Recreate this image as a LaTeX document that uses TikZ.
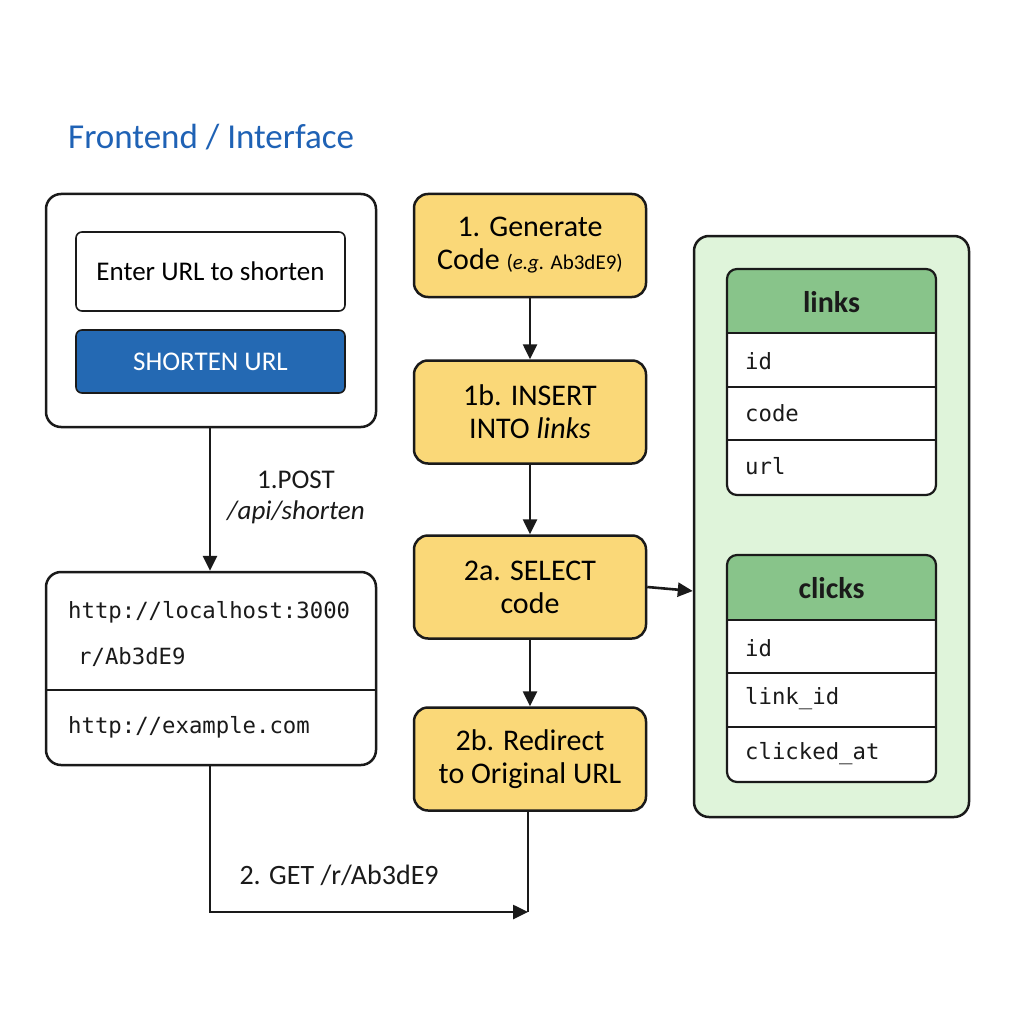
\documentclass[tikz,border=0pt]{standalone}
\usepackage{fontspec}
\setmainfont{Carlito}
\setmonofont{DejaVu Sans Mono}
\usetikzlibrary{arrows.meta}
\definecolor{titleblue}{HTML}{1F62B5}
\definecolor{btnblue}{HTML}{2469B3}
\definecolor{ybox}{HTML}{FAD878}
\definecolor{gbg}{HTML}{DFF4DA}
\definecolor{ghdr}{HTML}{88C48A}
\definecolor{ink}{HTML}{1A1A1A}
\tikzset{
  frame/.style={draw=ink, line width=2.5pt, rounded corners=15pt, fill=white},
  stepbox/.style={draw=ink, line width=2.5pt, rounded corners=14pt, fill=ybox,
    minimum width=232pt, minimum height=103pt, align=center,
    font=\fontsize{30}{33}\selectfont, inner sep=0pt},
  conn/.style={draw=ink, line width=2.6pt, -{Triangle[length=15pt,width=14pt]}},
  plain/.style={draw=ink, line width=2.6pt},
  lbl/.style={font=\fontsize{27}{31}\selectfont, align=center, text=ink},
  mono/.style={font=\ttfamily\fontsize{22.3}{26}\selectfont, text=ink, anchor=west, inner sep=0pt},
  tbl/.style={draw=ink, line width=2.2pt, rounded corners=10pt},
  hdrtxt/.style={font=\bfseries\fontsize{30}{32}\selectfont, text=ink},
  rowline/.style={draw=ink, line width=2.2pt},
}
\begin{document}
\begin{tikzpicture}[x=1pt,y=-1pt]
\useasboundingbox[fill=white] (0,0) rectangle (1024,1024);

% Title
\node[anchor=west, inner sep=0pt, text=titleblue, font=\fontsize{35}{40}\selectfont] (title) at (68,137) {Frontend / Interface};

% Frontend box
\node (front) at (211,310.5) [frame, minimum width=330pt, minimum height=233pt, inner sep=0pt] {};
\node (input) at (210.5,271.5) [draw=ink, line width=1.6pt, rounded corners=6pt, minimum width=269pt, minimum height=79pt, inner sep=0pt, font=\fontsize{27}{30}\selectfont] {Enter URL to shorten};
\node (btn) at (210.5,361.5) [draw=ink, line width=1.6pt, rounded corners=6pt, fill=btnblue, minimum width=269pt, minimum height=63pt, inner sep=0pt, text=white, font=\fontsize{27}{30}\selectfont] {SHORTEN URL};

% URL box
\node (urlbox) at (211,668.5) [frame, minimum width=330pt, minimum height=193pt, inner sep=0pt] {};
\draw[rowline, line width=2.4pt] (urlbox.west |- 0,690) -- (urlbox.east |- 0,690);
\node[mono] (u1) at (68,612) {http://localhost:3000};
\node[mono] (u2) at (78,657) {r/Ab3dE9};
\node[mono] (u3) at (68,727) {http://example.com};

% arrow 1
\coordinate (fb) at (210,427);
\draw[conn] (fb) -- (urlbox.north -| fb);
\node[lbl] (post) at (296,480) {1.POST};
\node[lbl, font=\itshape\fontsize{27}{31}\selectfont] (api) at (296,512) {/api/shorten};

% Step boxes
\node[stepbox] (s1) at (530,245.5) {1. Generate\\Code {\fontsize{21}{25}\selectfont(\textit{e.g.} Ab3dE9)}};
\node[stepbox] (s1b) at (530,412) {1b. INSERT\\INTO \textit{links}};
\node[stepbox] (s2a) at (530,587) {2a. SELECT\\code};
\node[stepbox] (s2b) at (530,759) {2b. Redirect\\to Original URL};

\draw[conn] (s1) -- (s1b);
\draw[conn] (s1b) -- (s2a);
\draw[conn] (s2a) -- (s2b);

% bottom connector
\coordinate (ub) at (210,765);
\coordinate (meet) at (528,912);
\draw[plain] (s2b.south -| meet) -- (meet);
\draw[conn] (ub) |- (meet);
\node[lbl, anchor=west, font=\fontsize{28}{31}\selectfont] (get) at (236,875) {2. GET /r/Ab3dE9};

% DB container
\node (db) at (831.5,526.5) [draw=ink, line width=2.5pt, rounded corners=15pt, fill=gbg, minimum width=275pt, minimum height=581pt, inner sep=0pt] {};
\draw[conn] (s2a.east) -- (db.west |- 0,591);

% links table
\fill[white, rounded corners=10pt] (727,269) rectangle (936,495);
\fill[ghdr, rounded corners=10pt] (727,269) rectangle (936,333);
\fill[ghdr] (727,310) rectangle (936,333);
\node[hdrtxt] (lh) at (831.5,302) {links};
\draw[rowline] (727,333) -- (936,333);
\draw[rowline] (727,387) -- (936,387);
\draw[rowline] (727,440) -- (936,440);
\node[tbl, minimum width=209pt, minimum height=226pt, inner sep=0pt] (links) at (831.5,382) {};
\node[mono] (l1) at (745,361) {id};
\node[mono] (l2) at (745,413) {code};
\node[mono] (l3) at (745,466) {url};

% clicks table
\fill[white, rounded corners=10pt] (727,555) rectangle (936,782);
\fill[ghdr, rounded corners=10pt] (727,555) rectangle (936,620);
\fill[ghdr] (727,596) rectangle (936,620);
\node[hdrtxt] (ch) at (831.5,588) {clicks};
\draw[rowline] (727,620) -- (936,620);
\draw[rowline] (727,673) -- (936,673);
\draw[rowline] (727,727) -- (936,727);
\node[tbl, minimum width=209pt, minimum height=227pt, inner sep=0pt] (clicks) at (831.5,668.5) {};
\node[mono] (c1) at (745,648) {id};
\node[mono] (c2) at (745,699) {link\_id};
\node[mono] (c3) at (745,754) {clicked\_at};
\end{tikzpicture}
\end{document}
